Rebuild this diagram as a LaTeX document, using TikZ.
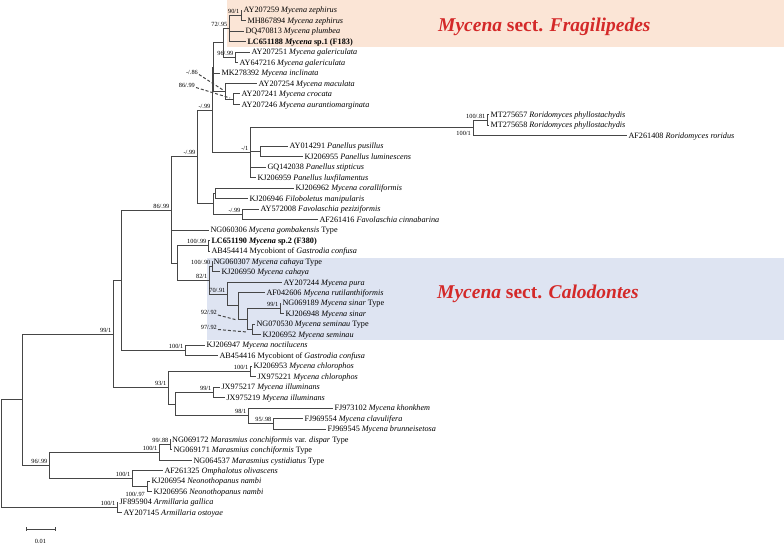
\documentclass[tikz,border=0pt]{standalone}
\usepackage{fontspec}
\setmainfont{Liberation Serif}
\definecolor{fragbg}{RGB}{251,229,214}
\definecolor{calbg}{RGB}{222,228,242}
\definecolor{titred}{RGB}{212,41,41}
\definecolor{brc}{RGB}{70,70,70}
\newcommand\Leaf[4]{\coordinate (#1) at (#2,#3);\node[lf] (#1-t) at ([xshift=1.3pt,yshift=-2.8pt]#1) {#4};}
\newcommand\Sup[2]{\node[sp] (#1-s) at ([xshift=-1.5pt,yshift=1.5pt]#1) {#2};}
\begin{document}
\begin{tikzpicture}[x=1pt,y=-1pt,
  br/.style={line width=0.6pt, draw=brc},
  lf/.style={anchor=base west, font=\fontsize{8.2}{9}\selectfont, inner sep=0pt},
  sp/.style={anchor=south east, font=\fontsize{6.3}{7}\selectfont, inner sep=0pt},
  ldr/.style={line width=1pt, draw=brc, dash pattern=on 3pt off 2pt},
  ttl/.style={anchor=base west, font=\fontsize{19.5}{22}\selectfont\bfseries, text=titred, inner sep=0pt}]
\useasboundingbox (0,0) rectangle (784,544);
% backgrounds
\fill[fragbg] (227,0) rectangle (784,46.5);
\fill[calbg] (207,257.5) rectangle (784,340);
\node[ttl] (tfrag) at (438,31) {\textit{Mycena} sect. \textit{Fragilipedes}};
\node[ttl] (tcal) at (437,298) {\textit{Mycena} sect. \textit{Calodontes}};
% internal nodes
\coordinate (root) at (1.2,453.48);
\coordinate (nA2) at (22,399.64);
\coordinate (nB) at (113,333.82);
\coordinate (nC) at (49,465.45);
\coordinate (nD) at (121,280.06);
\coordinate (nE) at (168,387.58);
\coordinate (nF) at (171,209.84);
\coordinate (nG) at (197,156.75);
\coordinate (nI) at (212,109.80);
\coordinate (nK) at (213,66.93);
\coordinate (nA) at (223,42.72);
\coordinate (n72) at (229,28.33);
\coordinate (n90) at (241,15.24);
\coordinate (n96) at (235,57.12);
\coordinate (n86) at (225,91.14);
\coordinate (n8699) at (233,99.0);
\coordinate (nP) at (250,152.66);
\coordinate (nR2) at (473,127.79);
\coordinate (nR1) at (487,119.94);
\coordinate (nPus) at (260,151.35);
\coordinate (nJ) at (213,203.70);
\coordinate (nCor) at (215,193.23);
\coordinate (nFav) at (242,214.17);
\coordinate (nH) at (177,262.92);
\coordinate (nLC) at (208,245.58);
\coordinate (n82) at (209,280.26);
\coordinate (nCah) at (212,266.52);
\coordinate (n70) at (227,294.00);
\coordinate (nU) at (238,305.78);
\coordinate (nT) at (247,318.87);
\coordinate (nSin) at (280,308.40);
\coordinate (nSem) at (252,329.34);
\coordinate (nNoc) at (185,350.28);
\coordinate (nChl) at (250,371.22);
\coordinate (nV) at (175,403.94);
\coordinate (nIll) at (213,392.16);
\coordinate (n98) at (248,415.72);
\coordinate (n95) at (273,423.57);
\coordinate (nW) at (159,452.36);
\coordinate (n99) at (170,444.51);
\coordinate (nOm) at (132,478.54);
\coordinate (nNeo) at (147,486.39);
\coordinate (nArm) at (117,507.33);
% leaves
\Leaf{l0}{242}{10.00}{AY207259 \textit{Mycena zephirus}}
\Leaf{l1}{246}{20.47}{MH867894 \textit{Mycena zephirus}}
\Leaf{l2}{244}{30.94}{DQ470813 \textit{Mycena plumbea}}
\Leaf{l3}{246}{41.41}{\textbf{LC651188 \textit{Mycena} sp.1 (F183)}}
\Leaf{l4}{250}{51.88}{AY207251 \textit{Mycena galericulata}}
\Leaf{l5}{238}{62.35}{AY647216 \textit{Mycena galericulata}}
\Leaf{l6}{220}{72.82}{MK278392 \textit{Mycena inclinata}}
\Leaf{l7}{257}{83.29}{AY207254 \textit{Mycena maculata}}
\Leaf{l8}{240}{93.76}{AY207241 \textit{Mycena crocata}}
\Leaf{l9}{240}{104.23}{AY207246 \textit{Mycena aurantiomarginata}}
\Leaf{l10}{489}{114.70}{MT275657 \textit{Roridomyces phyllostachydis}}
\Leaf{l11}{489}{125.17}{MT275658 \textit{Roridomyces phyllostachydis}}
\Leaf{l12}{627}{135.64}{AF261408 \textit{Roridomyces roridus}}
\Leaf{l13}{288}{146.11}{AY014291 \textit{Panellus pusillus}}
\Leaf{l14}{303}{156.58}{KJ206955 \textit{Panellus luminescens}}
\Leaf{l15}{266}{167.05}{GQ142038 \textit{Panellus stipticus}}
\Leaf{l16}{256}{177.52}{KJ206959 \textit{Panellus luxfilamentus}}
\Leaf{l17}{294}{187.99}{KJ206962 \textit{Mycena coralliformis}}
\Leaf{l18}{248}{198.46}{KJ206946 \textit{Filoboletus manipularis}}
\Leaf{l19}{259}{208.93}{AY572008 \textit{Favolaschia peziziformis}}
\Leaf{l20}{318}{219.40}{AF261416 \textit{Favolaschia cinnabarina}}
\Leaf{l21}{209}{229.87}{NG060306 \textit{Mycena gombakensis} Type}
\Leaf{l22}{210}{240.34}{\textbf{LC651190 \textit{Mycena} sp.2 (F380)}}
\Leaf{l23}{210}{250.81}{AB454414 Mycobiont of \textit{Gastrodia confusa}}
\Leaf{l24}{212}{261.28}{NG060307 \textit{Mycena cahaya} Type}
\Leaf{l25}{220}{271.75}{KJ206950 \textit{Mycena cahaya}}
\Leaf{l26}{282}{282.22}{AY207244 \textit{Mycena pura}}
\Leaf{l27}{265}{292.69}{AF042606 \textit{Mycena rutilanthiformis}}
\Leaf{l28}{281}{303.16}{NG069189 \textit{Mycena sinar} Type}
\Leaf{l29}{284}{313.63}{KJ206948 \textit{Mycena sinar}}
\Leaf{l30}{255}{324.10}{NG070530 \textit{Mycena seminau} Type}
\Leaf{l31}{261}{334.57}{KJ206952 \textit{Mycena seminau}}
\Leaf{l32}{205}{345.04}{KJ206947 \textit{Mycena noctilucens}}
\Leaf{l33}{218}{355.51}{AB454416 Mycobiont of \textit{Gastrodia confusa}}
\Leaf{l34}{252}{365.98}{KJ206953 \textit{Mycena chlorophos}}
\Leaf{l35}{256}{376.45}{JX975221 \textit{Mycena chlorophos}}
\Leaf{l36}{220}{386.92}{JX975217 \textit{Mycena illuminans}}
\Leaf{l37}{225}{397.39}{JX975219 \textit{Mycena illuminans}}
\Leaf{l38}{333}{407.86}{FJ973102 \textit{Mycena khonkhem}}
\Leaf{l39}{303}{418.33}{FJ969554 \textit{Mycena clavulifera}}
\Leaf{l40}{326}{428.80}{FJ969545 \textit{Mycena brunneisetosa}}
\Leaf{l41}{170.6}{439.27}{NG069172 \textit{Marasmius conchiformis} var. \textit{dispar} Type}
\Leaf{l42}{172}{449.74}{NG069171 \textit{Marasmius conchiformis} Type}
\Leaf{l43}{192}{460.21}{NG064537 \textit{Marasmius cystidiatus} Type}
\Leaf{l44}{163}{470.68}{AF261325 \textit{Omphalotus olivascens}}
\Leaf{l45}{150}{481.15}{KJ206954 \textit{Neonothopanus nambi}}
\Leaf{l46}{152}{491.62}{KJ206956 \textit{Neonothopanus nambi}}
\Leaf{l47}{118}{502.09}{JF895904 \textit{Armillaria gallica}}
\Leaf{l48}{122}{512.56}{AY207145 \textit{Armillaria ostoyae}}
% branches
\foreach \p/\c in {root/nA2, root/nArm, nA2/nB, nA2/nC, nB/nD, nB/nE, nD/nF, nD/nNoc,
  nF/nG, nF/l21, nF/nH, nG/nI, nG/nJ, nI/nK, nI/nP, nK/nA, nK/l6, nK/n86,
  nA/n72, nA/n96, n72/n90, n72/l2, n72/l3, n90/l0, n90/l1, n96/l4, n96/l5,
  n86/l7, n86/n8699, n8699/l8, n8699/l9,
  nP/nR2, nP/nPus, nP/l15, nP/l16, nR2/nR1, nR2/l12, nR1/l10, nR1/l11, nPus/l13, nPus/l14,
  nJ/nCor, nJ/nFav, nCor/l17, nCor/l18, nFav/l19, nFav/l20,
  nH/nLC, nH/n82, nLC/l22, nLC/l23, n82/nCah, n82/n70, nCah/l24, nCah/l25,
  n70/l26, n70/nU, nU/l27, nU/nT, nT/nSin, nT/nSem, nSin/l28, nSin/l29, nSem/l30, nSem/l31,
  nNoc/l32, nNoc/l33, nE/nChl, nE/nV, nChl/l34, nChl/l35, nV/nIll, nV/n98,
  nIll/l36, nIll/l37, n98/l38, n98/n95, n95/l39, n95/l40,
  nC/nW, nC/nOm, nW/n99, nW/l43, n99/l41, n99/l42, nOm/l44, nOm/nNeo, nNeo/l45, nNeo/l46,
  nArm/l47, nArm/l48}
  \draw[br] (\p) |- (\c);
% support values
\Sup{n90}{90/1}
\Sup{n72}{72/.95}
\Sup{n96}{96/.99}
\Sup{nR1}{100/.81}
\Sup{nP}{-/1}
\Sup{nI}{-/.99}
\Sup{nG}{-/.99}
\Sup{nF}{86/.99}
\Sup{nFav}{-/.99}
\Sup{nLC}{100/.99}
\Sup{nCah}{100/.90}
\Sup{n82}{82/1}
\Sup{n70}{70/.91}
\Sup{nSin}{99/1}
\Sup{nNoc}{100/1}
\Sup{nB}{99/1}
\Sup{nE}{93/1}
\Sup{nChl}{100/1}
\Sup{nIll}{99/1}
\Sup{n98}{98/1}
\Sup{n95}{95/.98}
\Sup{n99}{99/.88}
\Sup{nW}{100/1}
\Sup{nC}{96/.99}
\Sup{nOm}{100/1}
\Sup{nArm}{100/1}
\node[sp, anchor=east] (nR2-s) at (471,133.5) {100/1};
\node[sp, anchor=east] (nNeo-s) at (145,494) {100/.97};
% dashed leaders
\node[sp] (n86-s) at (198,74.5) {-/.86};
\node[sp] (n8699-s) at (195,87.5) {86/.99};
\node[sp] (nT-s) at (217,315) {92/.92};
\node[sp] (nSem-s) at (217,329.5) {97/.92};
\coordinate (d86) at (223,90);
\coordinate (d8699) at (230,98);
\coordinate (dT) at (237,320);
\coordinate (dSem) at (247,332);
\draw[ldr] ([xshift=1pt]n86-s.south east) -- (d86);
\draw[ldr] ([xshift=1pt]n8699-s.south east) -- (d8699);
\draw[ldr] ([xshift=1pt]nT-s.south east) -- (dT);
\draw[ldr] ([xshift=1pt]nSem-s.south east) -- (dSem);
% scale bar
\coordinate (sb1) at (26,529);
\coordinate (sb2) at (55,529);
\draw[br] (sb1) -- (sb2);
\draw[br] ([yshift=2pt]sb1) -- ([yshift=-2pt]sb1);
\draw[br] ([yshift=2pt]sb2) -- ([yshift=-2pt]sb2);
\node[font=\fontsize{6.3}{7}\selectfont, inner sep=0pt] (sbl) at (40.5,541) {0.01};
\end{tikzpicture}
\end{document}
